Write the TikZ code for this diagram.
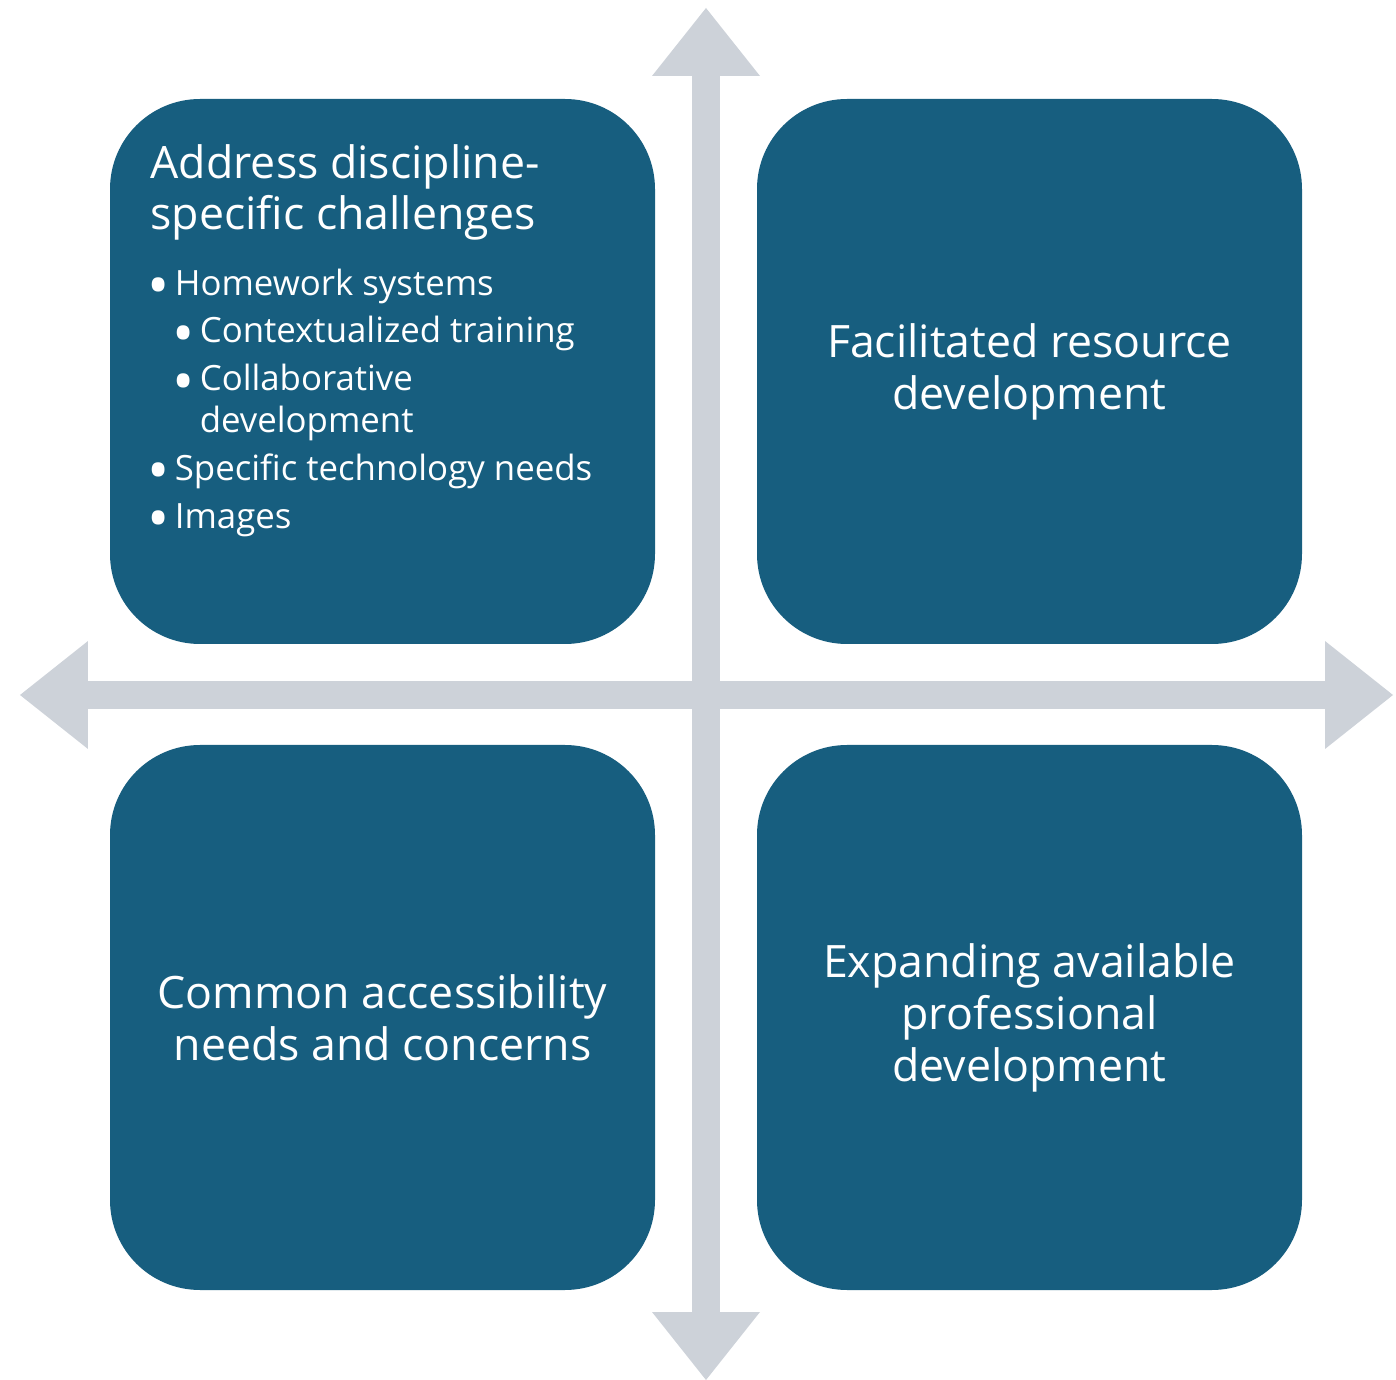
\documentclass[tikz,border=0pt]{standalone}
\usepackage{fontspec}
\setmainfont{Open Sans}
\usetikzlibrary{arrows.meta}

\definecolor{quadblue}{RGB}{23,94,127}
\definecolor{axisgray}{RGB}{205,210,217}

\newcommand{\itm}{\makebox[6.3pt][l]{\hspace{-1.4pt}\smash{\raisebox{-3.3pt}{\scalebox{1.7}{\textbullet}}}}}

\tikzset{
  quad/.style={fill=quadblue, rounded corners=0.9cm, minimum width=5.45cm,
    minimum height=5.45cm, text=white, align=center, inner sep=0pt,
    font=\fontsize{12.7}{14.8}\selectfont},
  axis/.style={draw=axisgray, line width=0.28cm,
    {Triangle[width=1.08cm,length=0.68cm,line width=0pt]}-{Triangle[width=1.08cm,length=0.68cm,line width=0pt]}},
}

\begin{document}
\begin{tikzpicture}
  \useasboundingbox (0,0) rectangle (13.96,-13.80);

  % axes
  \coordinate (top) at (7.06,-0.08);
  \coordinate (bottom) at (7.06,-13.80);
  \coordinate (left) at (0.20,-6.95);
  \coordinate (right) at (13.93,-6.95);
  \draw[axis] (bottom) -- (top);
  \draw[axis] (left) -- (right);

  % quadrants
  \node (tl) at (3.825,-3.715) [quad] {};
  \node (tr) at (10.295,-3.715) [quad] {Facilitated resource\\development};
  \node (bl) at (3.825,-10.175) [quad] {Common accessibility\\needs and concerns};
  \node (br) at (10.295,-10.175) [quad] {Expanding available\\professional\\development};

  \node (tltitle) at (1.50,-1.44) [anchor=north west, text=white, align=left,
    inner sep=0pt, font=\fontsize{12.7}{14.6}\selectfont]
    {Address discipline-\\specific challenges};
  \node (tlitems) at (1.52,-2.68) [anchor=north west, text=white, align=left,
    inner sep=0pt, font=\fontsize{9.9}{11.9}\selectfont]
    {\itm Homework systems\\[1.7pt]
     \hspace{7.1pt}\itm Contextualized training\\[1.7pt]
     \hspace{7.1pt}\itm Collaborative\\
     \hspace{13.4pt}development\\[1.7pt]
     \itm Specific technology needs\\[1.7pt]
     \itm Images};
\end{tikzpicture}
\end{document}
